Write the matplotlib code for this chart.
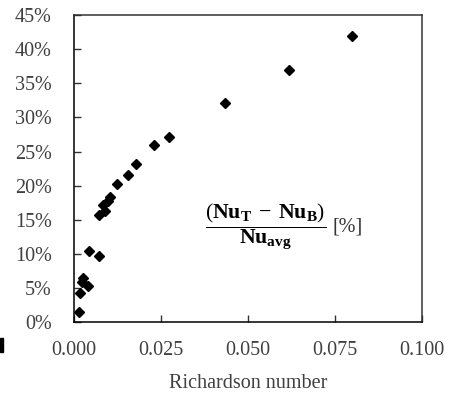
import matplotlib
matplotlib.use("Agg")
import matplotlib.pyplot as plt
from matplotlib.ticker import PercentFormatter

# data
richardson = [0.0015, 0.0017, 0.0024, 0.0027, 0.0041, 0.0043, 0.0072,
              0.0072, 0.0089, 0.0084, 0.0097, 0.0105, 0.0124, 0.0156,
              0.0178, 0.0231, 0.0274, 0.0435, 0.0619, 0.0800]
nu_diff = [1.5, 4.3, 5.9, 6.4, 5.3, 10.4, 9.7,
           15.7, 16.3, 17.2, 17.7, 18.4, 20.2, 21.5,
           23.1, 25.9, 27.2, 32.1, 37.0, 41.9]

x_ticks = [0.0, 0.025, 0.05, 0.075, 0.1]
y_ticks = [0, 5, 10, 15, 20, 25, 30, 35, 40, 45]

plt.rcParams['font.family'] = ['Liberation Serif', 'DejaVu Serif']
plt.rcParams['mathtext.fontset'] = 'custom'
plt.rcParams['mathtext.rm'] = 'Liberation Serif'
plt.rcParams['mathtext.bf'] = 'Liberation Serif:bold'
plt.rcParams['mathtext.it'] = 'Liberation Serif:italic'

fig = plt.figure(figsize=(4.62, 3.98), dpi=100)
ax = fig.add_axes([0.160, 0.191, 0.753, 0.771])

ax.plot(richardson, nu_diff, linestyle='none', marker='D', markersize=5.5,
        color='black', clip_on=False)

ax.set_xlim(0, 0.1)
ax.set_ylim(0, 45)
ax.set_xticks(x_ticks)
ax.set_yticks(y_ticks)
ax.set_xticklabels(["%.3f" % v for v in x_ticks])
ax.yaxis.set_major_formatter(PercentFormatter(decimals=0))
ax.tick_params(direction='in', length=5, width=1, labelsize=14.5,
               labelcolor='#404040', color='#333333')
ax.tick_params(axis='x', pad=14)
ax.tick_params(axis='y', pad=16)

for s in ax.spines.values():
    s.set_linewidth(1.1)
ax.spines['left'].set_color('black')
ax.spines['bottom'].set_color('black')
ax.spines['top'].set_color('#333333')
ax.spines['right'].set_color('#333333')

ax.set_xlabel("Richardson number", fontsize=14.5, color='#404040', labelpad=10)

ax.text(0.0550, 14.0,
        r'$\dfrac{(\mathbf{Nu_T}\;-\;\mathbf{Nu_B})}{\mathbf{Nu_{avg}}}$',
        fontsize=15.7, ha='center', va='center', color='black')
ax.text(0.0787, 13.9, "[%]", fontsize=14.5, ha='center', va='center',
        color='#333333')

# cropped fragment at the bottom-left corner
fig.patches.append(plt.Rectangle((0, 0.115), 0.007, 0.035,
                                 transform=fig.transFigure, color='black'))

fig.savefig("out.png", dpi=100)
